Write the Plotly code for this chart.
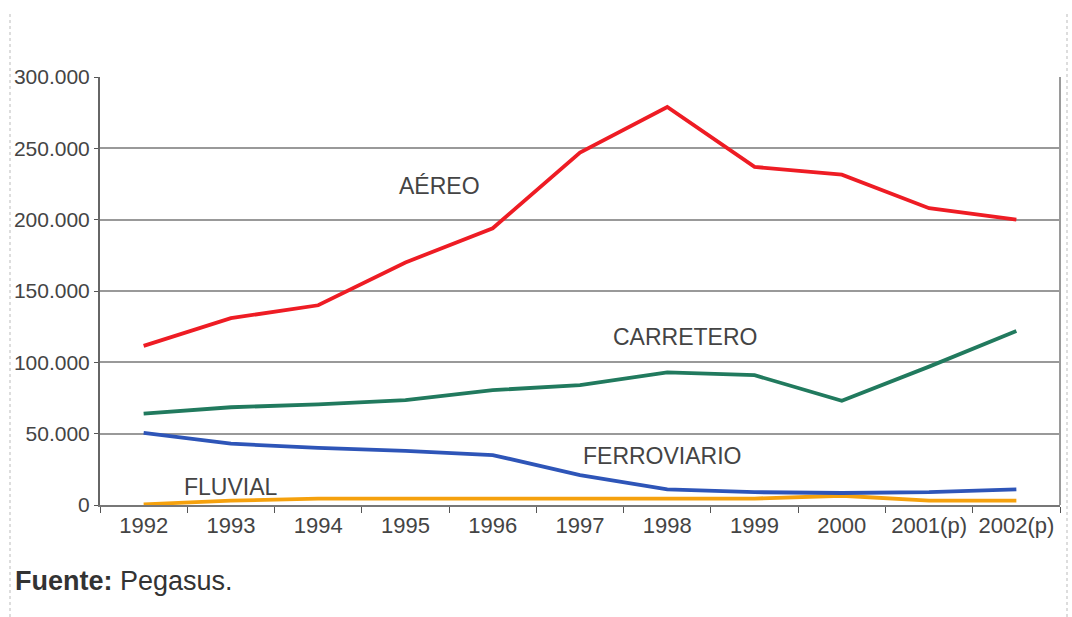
import plotly.graph_objects as go

years = ["1992", "1993", "1994", "1995", "1996", "1997", "1998", "1999", "2000", "2001(p)", "2002(p)"]
aereo = [111500, 131000, 140000, 170000, 194000, 247000, 279000, 237000, 231500, 208000, 200000]
carretero = [64000, 68500, 70500, 73500, 80500, 84000, 93000, 91000, 73000, 97000, 122000]
ferroviario = [50500, 43000, 40000, 38000, 35000, 21000, 11000, 9000, 8400, 9000, 11000]
fluvial = [500, 3000, 4500, 4500, 4500, 4500, 4500, 4500, 6500, 3000, 3000]

y_ticks = [0, 50000, 100000, 150000, 200000, 250000, 300000]
y_ticktext = ["0", "50.000", "100.000", "150.000", "200.000", "250.000", "300.000"]

FONT = "Liberation Sans, Arial, sans-serif"

fig = go.Figure()
series = [
    ("AÉREO", aereo, "#ee1c24"),
    ("CARRETERO", carretero, "#217a5e"),
    ("FERROVIARIO", ferroviario, "#2e55b8"),
    ("FLUVIAL", fluvial, "#f5a10d"),
]
for name, vals, col in series[::-1]:
    fig.add_trace(go.Scatter(x=years, y=vals, mode="lines", name=name,
                             line=dict(color=col, width=3.8), showlegend=False))

L, R, T, B = 100, 1060, 77, 505
W, H = 1072, 617

def px(xp):
    return (xp - L) / (R - L)

def py(yp):
    return (B - yp) / (B - T)

fig.update_layout(
    width=W, height=H,
    margin=dict(l=L, r=W - R, t=T, b=H - B),
    paper_bgcolor="white", plot_bgcolor="white",
    font=dict(family=FONT, color="#444"),
    xaxis=dict(type="category", tickson="boundaries", ticks="outside", ticklen=6,
               tickcolor="#555", showgrid=False, showline=True, linecolor="#777",
               linewidth=2, mirror=False, tickfont=dict(size=22, color="#444"),
               range=[-0.5, 10.5]),
    yaxis=dict(range=[0, 300000], tickvals=y_ticks, ticktext=y_ticktext,
               ticks="outside", ticklen=4, tickcolor="#555",
               showgrid=True, gridcolor="#999999", gridwidth=1.5,
               showline=True, linecolor="#666", linewidth=2,
               zeroline=False, tickfont=dict(size=21, color="#444")),
)

# right edge of plot area
fig.add_shape(type="line", xref="paper", yref="paper", x0=1, x1=1, y0=0, y1=1,
              line=dict(color="#9a9a9a", width=2))
# outer dashed frame
fig.add_shape(type="line", xref="paper", yref="paper", x0=px(10), x1=px(10),
              y0=py(617), y1=py(14), line=dict(color="#bbb", width=1, dash="dot"))
fig.add_shape(type="line", xref="paper", yref="paper", x0=px(1067), x1=px(1067),
              y0=py(617), y1=py(14), line=dict(color="#bbb", width=1, dash="dot"))

labels = [("AÉREO", 439, 186), ("CARRETERO", 685, 337),
          ("FERROVIARIO", 662, 456), ("FLUVIAL", 231, 487)]
for txt, xp, yp in labels:
    fig.add_annotation(text=txt, xref="paper", yref="paper", x=px(xp), y=py(yp),
                       showarrow=False, font=dict(size=23, color="#444", family=FONT),
                       xanchor="center", yanchor="middle")

fig.add_annotation(text="<b>Fuente:</b> Pegasus.", xref="paper", yref="paper",
                   x=px(13), y=py(581), showarrow=False, xanchor="left",
                   yanchor="middle", font=dict(size=27, color="#333", family=FONT))

fig.write_html("out.html", config={"displayModeBar": False},
               post_script="document.body.style.margin='0';document.body.style.overflow='hidden';")
